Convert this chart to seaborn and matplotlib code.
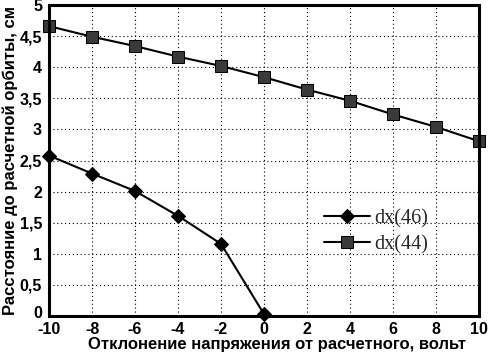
import matplotlib
matplotlib.use("Agg")
import matplotlib.pyplot as plt
import matplotlib.transforms as mtransforms
import seaborn as sns
import pandas as pd
from matplotlib.ticker import FuncFormatter

x46 = [-10, -8, -6, -4, -2, 0]
y46 = [2.58, 2.29, 2.01, 1.61, 1.16, 0.03]
x44 = [-10, -8, -6, -4, -2, 0, 2, 4, 6, 8, 10]
y44 = [4.66, 4.49, 4.34, 4.17, 4.02, 3.84, 3.64, 3.46, 3.24, 3.04, 2.81]
xticks = [-10, -8, -6, -4, -2, 0, 2, 4, 6, 8, 10]
yticks = [0, 0.5, 1, 1.5, 2, 2.5, 3, 3.5, 4, 4.5, 5]
xlabel = "Отклонение напряжения от расчетного, вольт"
ylabel = "Расстояние до расчетной орбиты, см"
labels = ["dx(46)", "dx(44)"]

sns.set_theme(style="white")
plt.rcParams['font.family'] = ['Liberation Sans', 'DejaVu Sans']

fig = plt.figure(figsize=(4.99, 3.54), dpi=100)
ax = fig.add_axes([49/499, 1 - 316/354, 430/499, 311/354])

df46 = pd.DataFrame({"x": x46, "y": y46})
df44 = pd.DataFrame({"x": x44, "y": y44})
sns.lineplot(data=df46, x="x", y="y", ax=ax, color="black", lw=1.5,
             marker="D", markersize=7, markerfacecolor="black",
             markeredgecolor="black", label=labels[0], clip_on=False)
sns.lineplot(data=df44, x="x", y="y", ax=ax, color="black", lw=1.5,
             marker="s", markersize=8, markerfacecolor="#3a3a3a",
             markeredgecolor="black", label=labels[1], clip_on=False)

ax.set_xlim(-10, 10)
ax.set_ylim(0, 5)
ax.set_xticks(xticks)
ax.set_yticks(yticks)
fmt = FuncFormatter(lambda v, p: (("%g" % v).replace(".", ",")))
ax.yaxis.set_major_formatter(fmt)
ax.xaxis.set_major_formatter(FuncFormatter(lambda v, p: "%d" % v))
ax.grid(True, color="black", linestyle=(0, (1, 2.5)), linewidth=0.8)
for s in ax.spines.values():
    s.set_color("black")
    s.set_linewidth(2.2)
ax.tick_params(axis="both", labelsize=11.5, length=0, colors="black")
ax.tick_params(axis="x", pad=4)
ax.tick_params(axis="y", pad=5)
for lab in ax.get_xticklabels() + ax.get_yticklabels():
    lab.set_fontweight("bold")
# nudge the y "0" label up a little so it clears the "-10" label
ylabs = ax.get_yticklabels()
ylabs[0].set_transform(ylabs[0].get_transform() +
                       mtransforms.ScaledTranslation(0, 4/100, fig.dpi_scale_trans))
ax.set_xlabel(xlabel, fontsize=12, fontweight="bold", color="black")
ax.xaxis.set_label_coords(0.53, -0.066)
ax.set_ylabel(ylabel, fontsize=12, fontweight="bold", labelpad=1, color="black")

leg = ax.legend(loc="upper left", bbox_to_anchor=(0.62, 0.37), frameon=False,
                prop={"family": "Liberation Serif", "size": 14.5},
                handlelength=2.3, handletextpad=0.2, labelspacing=0.35,
                borderaxespad=0)

fig.savefig("out.png", dpi=100)
